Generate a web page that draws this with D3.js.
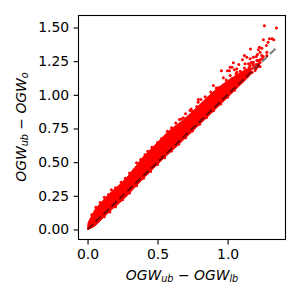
<!DOCTYPE html>
<html>
<head>
<meta charset="utf-8">
<script src="https://cdn.jsdelivr.net/npm/d3@7"></script>
<style>
    html, body { margin: 0; padding: 0; background: #fff; }
    svg { display: block; }
    text { font-family: "DejaVu Sans", sans-serif; fill: #000; }
</style>
</head>
<body>
<div id="chart"></div>
<script>
// Tick values
const xTicks = [0, 0.5, 1.0];
const yTicks = [0, 0.25, 0.5, 0.75, 1.0, 1.25, 1.5];

// Reference line y = x, ends
const refLine = [[0, 0], [1.345, 1.345]];

// The middle of the cloud is solid red, single points cannot be read there,
// so its outline is read instead: [x, top, bottom]
const coreOutline = [
    [0.000, 0.000, 0.000],
    [0.004, 0.052, 0.000],
    [0.054, 0.150, 0.025],
    [0.125, 0.232, 0.100],
    [0.175, 0.284, 0.150],
    [0.232, 0.335, 0.200],
    [0.282, 0.388, 0.250],
    [0.354, 0.482, 0.330],
    [0.396, 0.538, 0.375],
    [0.482, 0.628, 0.465],
    [0.568, 0.720, 0.552],
    [0.646, 0.785, 0.625],
    [0.680, 0.810, 0.660],
    [0.780, 0.906, 0.760],
    [0.853, 0.980, 0.832],
    [0.925, 1.047, 0.905],
    [1.000, 1.105, 0.980],
    [1.070, 1.150, 1.052],
    [1.130, 1.190, 1.112],
    [1.165, 1.195, 1.150]
];

// Points sticking out of the upper edge of the solid part
const upperEdgeX = [0.03, 0.06, 0.09, 0.12, 0.15, 0.17, 0.20, 0.24, 0.27, 0.30, 0.33, 0.35, 0.38, 0.41, 0.43, 0.46, 0.50, 0.53, 0.57, 0.60, 0.63, 0.67, 0.70, 0.74, 0.79, 0.84, 0.88, 0.92, 0.99, 1.06, 1.09, 1.12];
const upperEdgeY = [0.11, 0.165, 0.20, 0.24, 0.26, 0.295, 0.31, 0.35, 0.38, 0.42, 0.44, 0.495, 0.52, 0.555, 0.58, 0.61, 0.645, 0.675, 0.73, 0.755, 0.79, 0.82, 0.86, 0.895, 0.945, 0.985, 1.02, 1.05, 1.11, 1.155, 1.175, 1.20];

// Points along the lower edge
const lowerEdgeX = [0.03, 0.07, 0.12, 0.16, 0.20, 0.25, 0.30, 0.35, 0.40, 0.45, 0.50, 0.55, 0.60, 0.65, 0.70, 0.75, 0.80, 0.85, 0.90, 0.95, 1.00, 1.05];
const lowerEdgeY = [0.02, 0.06, 0.095, 0.13, 0.168, 0.22, 0.27, 0.325, 0.38, 0.43, 0.482, 0.532, 0.582, 0.632, 0.682, 0.732, 0.782, 0.832, 0.882, 0.932, 0.982, 1.034];

// Loose points of the upper tail
const tailX = [1.263, 1.349, 1.256, 1.299, 1.318, 1.330, 1.289, 1.277, 1.227, 1.244, 1.220, 1.163, 1.280, 1.280, 1.232, 1.213, 1.244, 1.204, 1.184, 1.120, 1.137, 1.106, 1.161, 1.209, 1.232, 1.041, 1.080, 1.018, 1.032, 0.956, 0.999, 1.013, 1.049, 1.066, 1.125, 1.149, 1.161, 1.184, 1.220, 0.970, 1.018, 1.030, 1.066, 0.791, 0.809, 0.899, 0.934, 0.959, 0.656, 0.684, 0.732, 0.751, 0.780, 1.161, 1.175, 1.189, 1.204, 1.218, 1.232, 1.196, 1.175, 1.218, 1.246, 1.182, 1.154, 1.204, 1.232, 1.254, 1.168];
const tailY = [1.512, 1.497, 1.408, 1.416, 1.416, 1.408, 1.390, 1.366, 1.353, 1.346, 1.334, 1.341, 1.316, 1.292, 1.316, 1.299, 1.292, 1.284, 1.279, 1.292, 1.279, 1.260, 1.267, 1.255, 1.260, 1.238, 1.225, 1.205, 1.205, 1.178, 1.178, 1.178, 1.186, 1.193, 1.230, 1.230, 1.218, 1.242, 1.230, 1.126, 1.143, 1.119, 1.168, 0.965, 0.965, 1.069, 1.052, 1.052, 0.817, 0.829, 0.883, 0.876, 0.913, 1.180, 1.195, 1.210, 1.225, 1.210, 1.240, 1.180, 1.166, 1.255, 1.270, 1.225, 1.203, 1.195, 1.210, 1.284, 1.240];

const margin = { top: 15.5, right: 14.5, bottom: 60.5, left: 78.5 };
const width = 300 - margin.left - margin.right;
const height = 300 - margin.top - margin.bottom;

const svg = d3.select('#chart')
    .append('svg')
    .attr('width', 300)
    .attr('height', 300);

const g = svg.append('g')
    .attr('transform', `translate(${margin.left}, ${margin.top})`);

const xScale = d3.scaleLinear().domain([-0.0645, 1.4135]).range([0, width]);
const yScale = d3.scaleLinear().domain([-0.0745, 1.589]).range([height, 0]);

// Solid part of the cloud
const coreArea = d3.area()
    .x(d => xScale(d[0]))
    .y0(d => yScale(d[2]))
    .y1(d => yScale(d[1]));

g.append('path')
    .datum(coreOutline)
    .attr('fill', '#ff0000')
    .attr('stroke', '#ff0000')
    .attr('stroke-width', 1)
    .attr('stroke-linejoin', 'round')
    .attr('d', coreArea);

// Single points
const zipPoints = (xs, ys) => xs.map((x, i) => [x, ys[i]]);
const points = [
    ...zipPoints(upperEdgeX, upperEdgeY),
    ...zipPoints(lowerEdgeX, lowerEdgeY),
    ...zipPoints(tailX, tailY)
];

g.selectAll('.dot')
    .data(points)
    .enter()
    .append('circle')
    .attr('class', 'dot')
    .attr('cx', d => xScale(d[0]))
    .attr('cy', d => yScale(d[1]))
    .attr('r', 1.5)
    .attr('fill', '#ff0000');

// Dashed reference line
g.append('path')
    .datum(refLine)
    .attr('fill', 'none')
    .attr('stroke', '#000')
    .attr('stroke-opacity', 0.5)
    .attr('stroke-width', 2.08)
    .attr('stroke-dasharray', '7.7,3.3')
    .attr('d', d3.line().x(d => xScale(d[0])).y(d => yScale(d[1])));

// Axes
const xAxis = g.append('g')
    .attr('transform', `translate(0, ${height})`)
    .call(d3.axisBottom(xScale).tickValues(xTicks).tickFormat(d3.format('.1f')).tickSize(4.9).tickPadding(4.5));

const yAxis = g.append('g')
    .call(d3.axisLeft(yScale).tickValues(yTicks).tickFormat(d3.format('.2f')).tickSize(4.9).tickPadding(4.5));

[xAxis, yAxis].forEach(axis => {
    axis.select('.domain').remove();
    axis.selectAll('.tick line').attr('stroke', '#000').attr('stroke-width', 1.1);
    axis.selectAll('text').style('font-size', '13.9px').attr('fill', '#000');
});

// Frame
g.append('rect')
    .attr('width', width)
    .attr('height', height)
    .attr('fill', 'none')
    .attr('stroke', '#000')
    .attr('stroke-width', 1.1);

// Axis titles with subscripts
function addMathLabel(el, parts) {
    parts.forEach(p => {
        const span = el.append('tspan').text(p.text);
        if (p.sub) {
            span.attr('dy', 2.1).style('font-size', '9.7px');
        } else {
            span.attr('dy', p.first ? 0 : -2.1);
        }
        span.style('font-style', p.plain ? 'normal' : 'oblique');
    });
}

const xLabel = svg.append('text')
    .attr('x', 182)
    .attr('y', 280)
    .attr('text-anchor', 'middle')
    .style('font-size', '13.9px');
addMathLabel(xLabel, [
    { text: 'OGW', first: true },
    { text: 'ub', sub: true },
    { text: ' \u2212 ', plain: true },
    { text: 'OGW', first: true },
    { text: 'lb', sub: true }
]);

const yLabel = svg.append('text')
    .attr('transform', 'translate(26, 127) rotate(-90)')
    .attr('text-anchor', 'middle')
    .style('font-size', '13.9px');
addMathLabel(yLabel, [
    { text: 'OGW', first: true },
    { text: 'ub', sub: true },
    { text: ' \u2212 ', plain: true },
    { text: 'OGW', first: true },
    { text: 'o', sub: true }
]);
</script>
</body>
</html>
